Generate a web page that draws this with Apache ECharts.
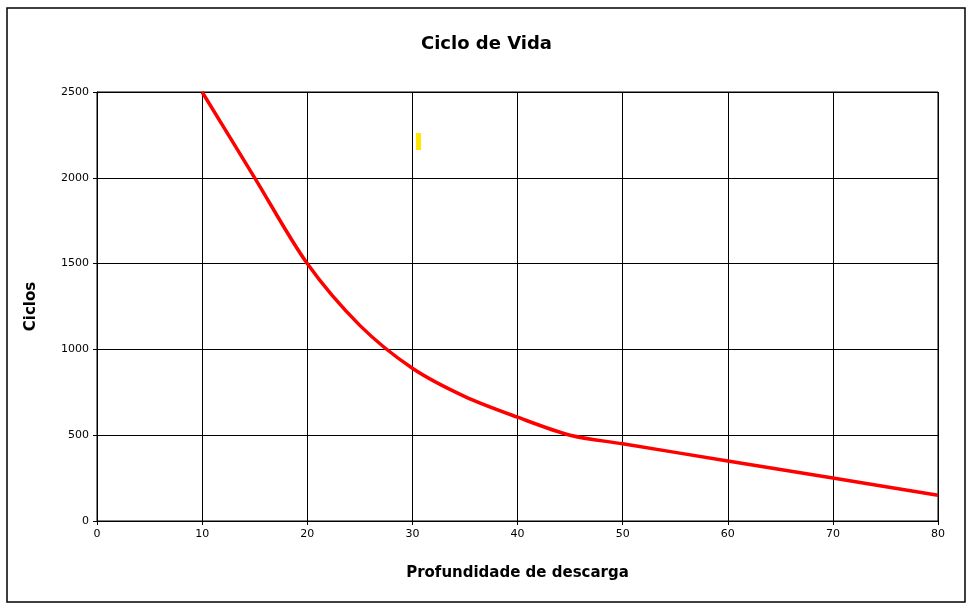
<!DOCTYPE html>
<html><head><meta charset="utf-8">
<script src="https://cdn.jsdelivr.net/npm/echarts@6/dist/echarts.min.js"></script>
<style>html,body{margin:0;padding:0;background:#fff}#main{width:973px;height:610px}</style>
</head><body><div id="main"></div>
<script>
var depth = [10, 15, 20, 25, 30, 35, 40, 45, 50, 60, 70, 80];
var cycles = [2500, 2000, 1500, 1140, 890, 725, 605, 500, 450, 350, 250, 150];

var myChart = echarts.init(document.getElementById('main'));

var option = {
  animation: false,
  title: {
    text: 'Ciclo de Vida',
    left: 'center',
    top: 30,
    textStyle: { fontFamily: 'DejaVu Sans', fontWeight: 'bold', fontSize: 18, color: '#000' }
  },
  graphic: [
    { type: 'rect', shape: { x: 7, y: 8, width: 958, height: 594 }, style: { fill: null, stroke: '#000', lineWidth: 1.5 } },
    { type: 'rect', shape: { x: 416, y: 133, width: 5, height: 17 }, style: { fill: '#ffe600' } }
  ],
  grid: { left: 97, right: 35, top: 92, bottom: 89, show: true, borderColor: '#000', borderWidth: 1 },
  xAxis: {
    type: 'value', min: 0, max: 80, interval: 10,
    name: 'Profundidade de descarga', nameLocation: 'middle', nameGap: 45,
    nameTextStyle: { fontFamily: 'DejaVu Sans', fontWeight: 'bold', fontSize: 15, color: '#000' },
    axisLine: { lineStyle: { color: '#000' } },
    axisTick: { lineStyle: { color: '#000' }, length: 4 },
    axisLabel: { color: '#000', fontSize: 11, fontFamily: 'DejaVu Sans' },
    splitLine: { lineStyle: { color: '#000', width: 1 } }
  },
  yAxis: {
    type: 'value', min: 0, max: 2500, interval: 500,
    name: 'Ciclos', nameLocation: 'middle', nameGap: 58, nameRotate: 90,
    nameTextStyle: { fontFamily: 'DejaVu Sans', fontWeight: 'bold', fontSize: 15, color: '#000' },
    axisLine: { show: true, lineStyle: { color: '#000' } },
    axisTick: { show: true, lineStyle: { color: '#000' }, length: 4 },
    axisLabel: { color: '#000', fontSize: 11, fontFamily: 'DejaVu Sans', formatter: function (v) { return String(v); } },
    splitLine: { lineStyle: { color: '#000', width: 1 } }
  },
  series: [{
    type: 'line',
    data: depth.map(function (d, i) { return [d, cycles[i]]; }),
    smooth: 0.3,
    showSymbol: false,
    lineStyle: { color: '#ff0000', width: 3.5 }
  }]
};

myChart.setOption(option);
</script></body></html>
